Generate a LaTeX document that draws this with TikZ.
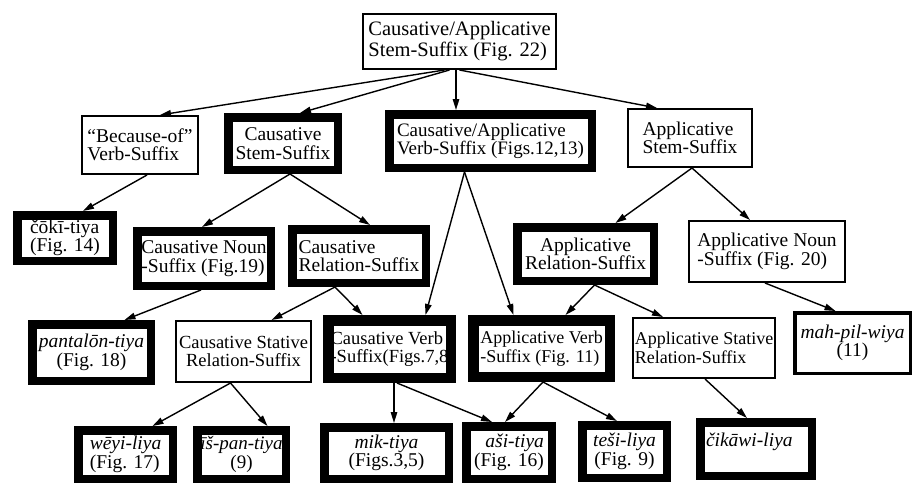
\documentclass[tikz,border=0pt]{standalone}
\usepackage{fontspec}
\setmainfont{Liberation Serif}
\usetikzlibrary{arrows.meta}
\newcommand\fsz[2]{\fontsize{#1}{#2}\selectfont}
\tikzset{
  box/.style={draw, inner sep=0pt, font=\fsz{19.5}{18.5}, align=center},
  plainbox/.style 2 args={box, line width=1.6pt, minimum width=#1pt-1.6pt, minimum height=#2pt-1.6pt},
  midbox/.style 2 args={box, line width=3.5pt, minimum width=#1pt-3.5pt, minimum height=#2pt-3.5pt},
  heavybox/.style 2 args={box, line width=8.5pt, minimum width=#1pt-8.5pt, minimum height=#2pt-8.5pt},
  heavierbox/.style 2 args={box, line width=10.5pt, minimum width=#1pt-10.5pt, minimum height=#2pt-10.5pt},
  arr/.style={-{Triangle[length=11pt,width=6.5pt]}, line width=1.4pt},
}
\begin{document}
\begin{tikzpicture}[x=1pt,y=-1pt]
\useasboundingbox (0,0) rectangle (914,485);

% level 1
\node[plainbox={195}{57}, align=left, font=\fsz{20.5}{21}] (top) at (459.5,41.5) {Causative/Applicative\\Stem-Suffix (Fig. 22)};

% level 2
\node[plainbox={118}{60}, align=left] (because) at (140,145) {“Because-of”\\Verb-Suffix};
\node[heavybox={118}{61}] (cstem) at (283,143.5) {Causative\\Stem-Suffix};
\node[heavybox={211}{62}, align=left, font=\fsz{19}{18.5}] (caverb) at (490.5,141) {Causative/Applicative\\Verb-Suffix (Figs.12,13)};
\node[plainbox={126}{60}, align=left] (astem) at (690,138) {Applicative\\Stem-Suffix};

% level 3
\node[heavybox={104}{54}, align=left] (coki) at (65,238) {čōkī-tiya\\(Fig. 14)};
\node[heavybox={142}{63}, align=left] (cnoun) at (204,258.5) {Causative Noun\\-Suffix (Fig.19)};
\node[heavybox={142}{62}, align=left] (crel) at (359,256) {Causative\\Relation-Suffix};
\node[heavybox={145}{62}] (arel) at (585.5,254) {Applicative\\Relation-Suffix};
\node[plainbox={158}{63}, align=left] (anoun) at (767,251.5) {Applicative Noun\\-Suffix (Fig. 20)};

% level 4
\node[heavybox={127}{65}] (pant) at (91.5,352.5) {\textit{pantalōn-tiya}\\(Fig. 18)};
\node[plainbox={137}{63}, font=\fsz{18.5}{18.5}] (cstat) at (243.5,351.5) {Causative Stative\\Relation-Suffix};
\node[heavierbox={133}{68}, align=left, font=\fsz{18.5}{18.5}] (cverb) at (389.5,349) {Causative Verb\\-Suffix(Figs.7,8};
\node[heavierbox={147}{67}, align=left, font=\fsz{18}{18.5}] (averb) at (541.5,348.5) {Applicative Verb\\-Suffix (Fig. 11)};
\node[plainbox={144}{62}, align=left, font=\fsz{18}{18.5}] (astat) at (704,348) {Applicative Stative\\Relation-Suffix};
\node[midbox={119}{64}] (mah) at (852.5,343) {\textit{mah-pil-wiya}\\(11)};

% level 5
\node[heavybox={103}{57}, align=left] (weyi) at (125.5,454.5) {\textit{wēyi-liya}\\(Fig. 17)};
\node[heavybox={97}{57}, font=\fsz{19}{18.5}] (ispan) at (241.5,454.5) {\textit{īš-pan-tiya}\\(9)};
\node[heavybox={133}{60}] (mik) at (386.5,453) {\textit{mik-tiya}\\(Figs.3,5)};
\node[heavybox={94}{61}, align=right] (asi) at (509,452.5) {\textit{aši-tiya}\\(Fig. 16)};
\node[heavybox={93}{61}] (tesi) at (624.5,451.5) {\textit{teši-liya}\\(Fig. 9)};
\node[heavybox={120}{62}, align=left, text width=100pt] (cika) at (756,449) {\textit{čikāwi-liya}\\\mbox{}};

% connectors
\draw[arr] ([xshift=-15pt]top.south) -- ([xshift=20pt]because.north);
\draw[arr] ([xshift=-10pt]top.south) -- ([xshift=17pt]cstem.north);
\draw[arr] ([xshift=-3.5pt]top.south) -- ([xshift=-34.5pt]caverb.north);
\draw[arr] (top.south) -- ([xshift=-33pt]astem.north);

\draw[arr] ([xshift=7pt]because.south) -- ([xshift=18pt]coki.north);
\draw[arr] ([xshift=7pt]cstem.south) -- ([xshift=-2pt]cnoun.north);
\draw[arr] ([xshift=7pt]cstem.south) -- ([xshift=11pt]crel.north);
\draw[arr] ([xshift=-26pt]caverb.south) -- ([xshift=36pt]cverb.north);
\draw[arr] ([xshift=-26pt]caverb.south) -- ([xshift=-28pt]averb.north);
\draw[arr] ([xshift=2pt]astem.south) -- ([xshift=30pt]arel.north);
\draw[arr] ([xshift=2pt]astem.south) -- ([xshift=-17pt]anoun.north);

\draw[arr] ([xshift=-3pt]cnoun.south) -- ([xshift=33pt]pant.north);
\draw[arr] ([xshift=-24pt]crel.south) -- ([xshift=28pt]cstat.north);
\draw[arr] ([xshift=-24pt]crel.south) -- ([xshift=-27pt]cverb.north);
\draw[arr] ([xshift=9pt]arel.south) -- ([xshift=24pt]averb.north);
\draw[arr] ([xshift=9pt]arel.south) -- ([xshift=-41pt]astat.north);
\draw[arr] ([xshift=-2pt]anoun.south) -- ([xshift=-17pt]mah.north);

\draw[arr] ([xshift=-13pt]cstat.south) -- ([xshift=27pt]weyi.north);
\draw[arr] ([xshift=-13pt]cstat.south) -- ([xshift=26pt]ispan.north);
\draw[arr] ([xshift=4.5pt]cverb.south) -- ([xshift=7.5pt]mik.north);
\draw[arr] ([xshift=7.5pt]cverb.south) -- ([xshift=-17pt]asi.north);
\draw[arr] ([xshift=1.5pt]averb.south) -- ([xshift=-4pt]asi.north);
\draw[arr] ([xshift=1.5pt]averb.south) -- ([xshift=-7.5pt]tesi.north);
\draw[arr] ([xshift=1pt]astat.south) -- ([xshift=-9pt]cika.north);
\end{tikzpicture}
\end{document}
